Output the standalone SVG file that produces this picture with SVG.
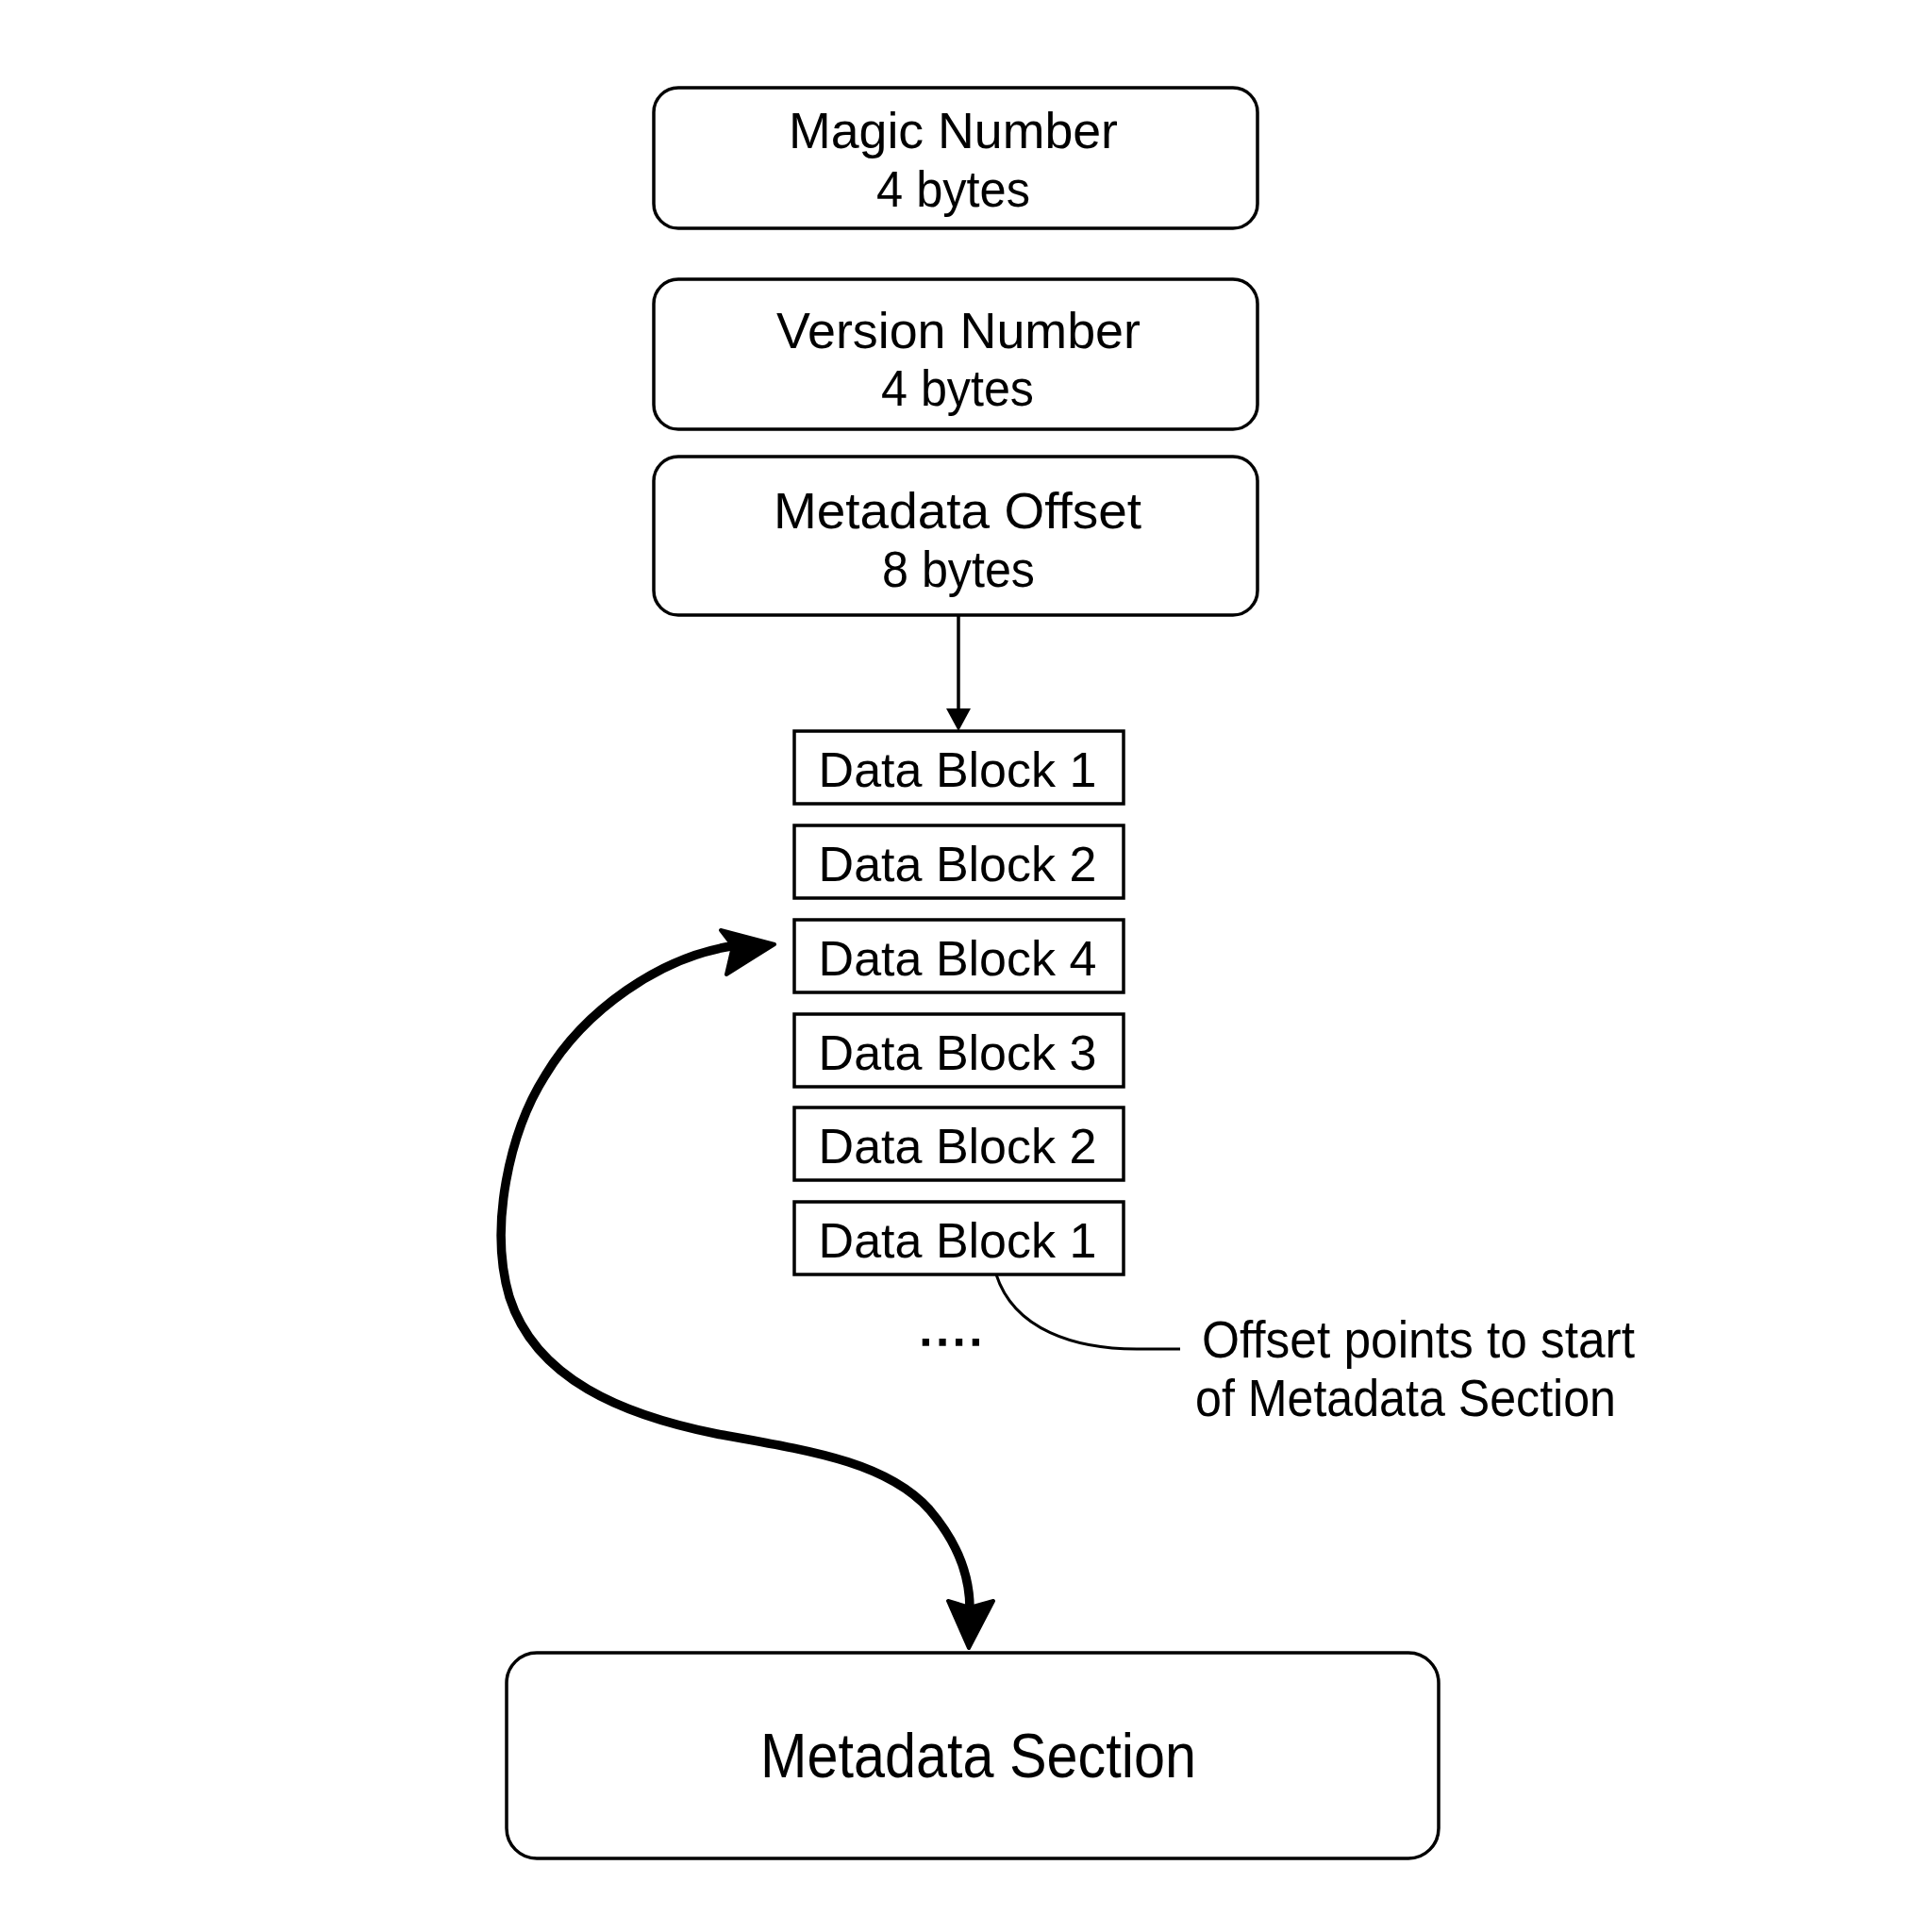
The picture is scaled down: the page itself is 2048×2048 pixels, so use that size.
<svg xmlns="http://www.w3.org/2000/svg" width="2048" height="2048" viewBox="0 0 2048 2048">
<style>
text{font-family:"Liberation Sans",Arial,sans-serif;fill:#000}
.hdr{font-size:54px;text-anchor:start}
.sub{font-size:54px;text-anchor:start}
.blk{font-size:52px;text-anchor:middle}
.rbox{fill:#fff;stroke:#000;stroke-width:3.5}
.dbox{fill:#fff;stroke:#000;stroke-width:3.5}
.lbl{font-size:56px}
</style>
<rect width="2048" height="2048" fill="#fff"/>
<g id="magic">
<rect class="rbox" x="693" y="93" width="640" height="149" rx="26"/>
<text class="hdr" x="836" y="157" textLength="349" lengthAdjust="spacingAndGlyphs">Magic Number</text>
<text class="sub" x="929" y="219" textLength="163" lengthAdjust="spacingAndGlyphs">4 bytes</text>
</g>
<g id="version">
<rect class="rbox" x="693" y="296" width="640" height="159" rx="26"/>
<text class="hdr" x="823" y="369" textLength="386" lengthAdjust="spacingAndGlyphs">Version Number</text>
<text class="sub" x="934" y="430" textLength="162" lengthAdjust="spacingAndGlyphs">4 bytes</text>
</g>
<g id="offset">
<rect class="rbox" x="693" y="484" width="640" height="168" rx="26"/>
<text class="hdr" x="820" y="560" textLength="390" lengthAdjust="spacingAndGlyphs">Metadata Offset</text>
<text class="sub" x="935" y="622" textLength="162" lengthAdjust="spacingAndGlyphs">8 bytes</text>
</g>
<g id="db1a"><rect class="dbox" x="842" y="775" width="349" height="77"/><text class="blk" x="1015" y="834">Data Block 1</text></g>
<g id="db2a"><rect class="dbox" x="842" y="875" width="349" height="77"/><text class="blk" x="1015" y="934">Data Block 2</text></g>
<g id="db4"><rect class="dbox" x="842" y="975" width="349" height="77"/><text class="blk" x="1015" y="1034">Data Block 4</text></g>
<g id="db3"><rect class="dbox" x="842" y="1075" width="349" height="77"/><text class="blk" x="1015" y="1134">Data Block 3</text></g>
<g id="db2b"><rect class="dbox" x="842" y="1174" width="349" height="77"/><text class="blk" x="1015" y="1233">Data Block 2</text></g>
<g id="db1b"><rect class="dbox" x="842" y="1274" width="349" height="77"/><text class="blk" x="1015" y="1333">Data Block 1</text></g>
<g id="ellipsis"><text x="973" y="1426" style="font-size:60px;letter-spacing:1px;stroke:#000;stroke-width:1.5">....</text></g>
<g id="note">
<text class="lbl" x="1274" y="1439" textLength="459" lengthAdjust="spacingAndGlyphs">Offset points to start</text>
<text class="lbl" x="1267" y="1501" textLength="446" lengthAdjust="spacingAndGlyphs">of Metadata Section</text>
</g>
<g id="metadata">
<rect class="rbox" x="537" y="1752" width="988" height="218" rx="32"/>
<text x="806" y="1884" style="font-size:66px" textLength="462" lengthAdjust="spacingAndGlyphs">Metadata Section</text>
</g>
<g id="connectors">
<line x1="1016" y1="652" x2="1016" y2="752" stroke="#000" stroke-width="3.5"/>
<polygon points="1003,751 1029,751 1016,775" fill="#000"/>
<path d="M1056,1351 C1075,1410 1140,1430 1205,1430 L1251,1430" fill="none" stroke="#000" stroke-width="3"/>
<path d="M775,1003 C700,1015 620,1070 578,1140 C540,1200 518,1300 540,1375 C568,1462 660,1500 760,1520 C860,1538 940,1550 985,1600 C1015,1635 1028,1670 1028,1705" fill="none" stroke="#000" stroke-width="9.5" stroke-linecap="round"/>
<polygon points="821,1001 764,986 777,1003 770,1033" fill="#000" stroke="#000" stroke-width="4" stroke-linejoin="round"/>
<polygon points="1027,1747 1005,1697 1028,1704 1053,1697" fill="#000" stroke="#000" stroke-width="4" stroke-linejoin="round"/>
</g>
</svg>
